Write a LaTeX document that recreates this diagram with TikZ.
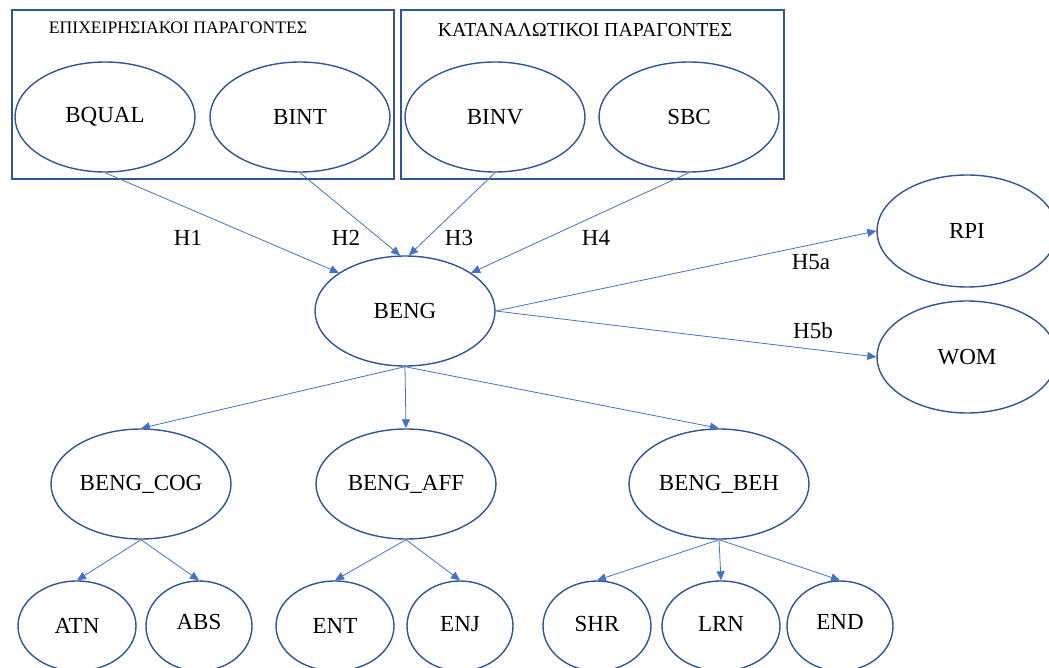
\documentclass[tikz,border=0pt]{standalone}
\usepackage{fontspec}
\setmainfont{Liberation Serif}
\usetikzlibrary{shapes.geometric,arrows.meta}
\definecolor{lineblue}{HTML}{2F5597}
\definecolor{arrowblue}{HTML}{4472C4}

\begin{document}
\begin{tikzpicture}[x=0.5pt,y=-0.5pt,
		var/.style={ellipse,draw=lineblue,line width=0.7pt,minimum width=90pt,minimum height=55pt,inner sep=0pt,font=\fontsize{11.5}{13}\selectfont},
		leaf/.style={var,minimum width=59pt,minimum height=45pt},
		path/.style={draw=arrowblue,line width=0.4pt,-{Triangle[length=4.5pt,width=4pt]}},
		lab/.style={font=\fontsize{11.5}{13}\selectfont,inner sep=0pt}]
	\useasboundingbox (0,0) rectangle (1049,668);
	\clip (0,0) rectangle (1049,668);
	% the two groups of factors
	\draw[lineblue,line width=0.7pt] (12,10) rectangle (394,179);
	\draw[lineblue,line width=0.7pt] (401,10) rectangle (784,179);
	\node[lab,font=\fontsize{8.8}{10}\selectfont] (tbus) at (178,28) {ΕΠΙΧΕΙΡΗΣΙΑΚΟΙ ΠΑΡΑΓΟΝΤΕΣ};
	\node[lab,font=\fontsize{9.9}{11}\selectfont] (tcons) at (585,30) {ΚΑΤΑΝΑΛΩΤΙΚΟΙ ΠΑΡΑΓΟΝΤΕΣ};
	\foreach\n/\t/\x in {bqual/BQUAL/105, bint/BINT/300, binv/BINV/495, sbc/SBC/689}
	{\node[var] (\n) at (\x,117) {\t};}
	% central construct and outcomes
	\node[var] (beng) at (405,311) {BENG};
	\node[var,minimum height=56pt] (rpi) at (967,231) {RPI};
	\node[var,minimum height=56pt] (wom) at (967,357) {WOM};
	% dimensions
	\foreach\n/\t/\x in {cog/BENG\_COG/141, aff/BENG\_AFF/406, beh/BENG\_BEH/719}
	{\node[var] (\n) at (\x,484) {\t};}
	\foreach\n/\t/\x/\w/\s in {atn/ATN/77/59/-2, abs/ABS/199/53/4, ent/ENT/335/59/-3, enj/ENJ/460/53/2, shr/SHR/597/54/2, lrn/LRN/721/59/2, end/END/840/53/4}
	{\node[leaf,minimum width=\w pt,text depth=\s pt] (\n) at (\x,626) {\t};}
	% hypotheses
	\draw[path] (bqual.south) -- (beng.150);
	\draw[path] (bint.south) -- (beng.95);
	\draw[path] (binv.south) -- (beng.86);
	\draw[path] (sbc.south) -- (beng.30);
	\draw[path] (beng.east) -- (rpi.west);
	\draw[path] (beng.east) -- (wom.west);
	\node[lab] (h1) at (188,238) {H1};
	\node[lab] (h2) at (346,238) {H2};
	\node[lab] (h3) at (459,238) {H3};
	\node[lab] (h4) at (596,238) {H4};
	\node[lab] (h5a) at (811,262) {H5a};
	\node[lab] (h5b) at (813,331) {H5b};
	\foreach\d in {cog,aff,beh}
	{\draw[path] (beng.south) -- (\d.north);}
	\draw[path] (cog.south) -- (atn.north);
	\draw[path] (cog.south) -- (abs.north);
	\draw[path] (aff.south) -- (ent.north);
	\draw[path] (aff.south) -- (enj.north);
	\draw[path] (beh.south) -- (shr.north);
	\draw[path] (beh.south) -- (lrn.north);
	\draw[path] (beh.south) -- (end.north);
\end{tikzpicture}
\end{document}
